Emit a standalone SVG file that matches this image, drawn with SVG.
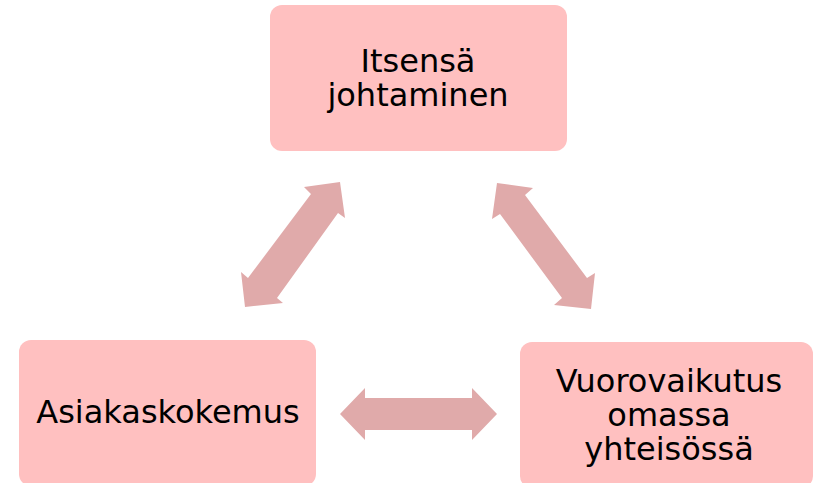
<svg xmlns="http://www.w3.org/2000/svg" width="814" height="483" viewBox="0 0 814 483">
<style>
.box{fill:#ffc0c0}
.lbl{font-family:"DejaVu Sans",Verdana,sans-serif;font-size:32px;fill:#000;text-anchor:middle}
.arr{fill:#e0aaaa}
</style>
<rect width="814" height="483" fill="#fff"/>
<g id="node-itsensa">
<rect class="box" x="270" y="5" width="297" height="146" rx="12"/>
<text class="lbl" x="418" y="72">Itsensä</text>
<text class="lbl" x="418" y="106">johtaminen</text>
</g>
<g id="node-asiakaskokemus">
<rect class="box" x="19" y="340" width="297" height="146" rx="12"/>
<text class="lbl" x="168" y="423">Asiakaskokemus</text>
</g>
<g id="node-vuorovaikutus">
<rect class="box" x="520" y="342" width="293" height="146" rx="12"/>
<text class="lbl" x="669" y="392">Vuorovaikutus</text>
<text class="lbl" x="669" y="426">omassa</text>
<text class="lbl" x="669" y="460">yhteisössä</text>
</g>
<g id="connectors">
<polygon class="arr" points="340,182 345,218 338,213 277,298 283,303 245,307 241,272 248,278 311,194 304,187"/>
<polygon class="arr" points="497,183 533,188 525,195 587,278 595,273 591,309 554,305 562,298 500,214 492,219"/>
<polygon class="arr" points="340,414 365,388 365,398 472,398 472,388 497,414 472,440 472,430 365,430 365,440"/>
</g>
</svg>
